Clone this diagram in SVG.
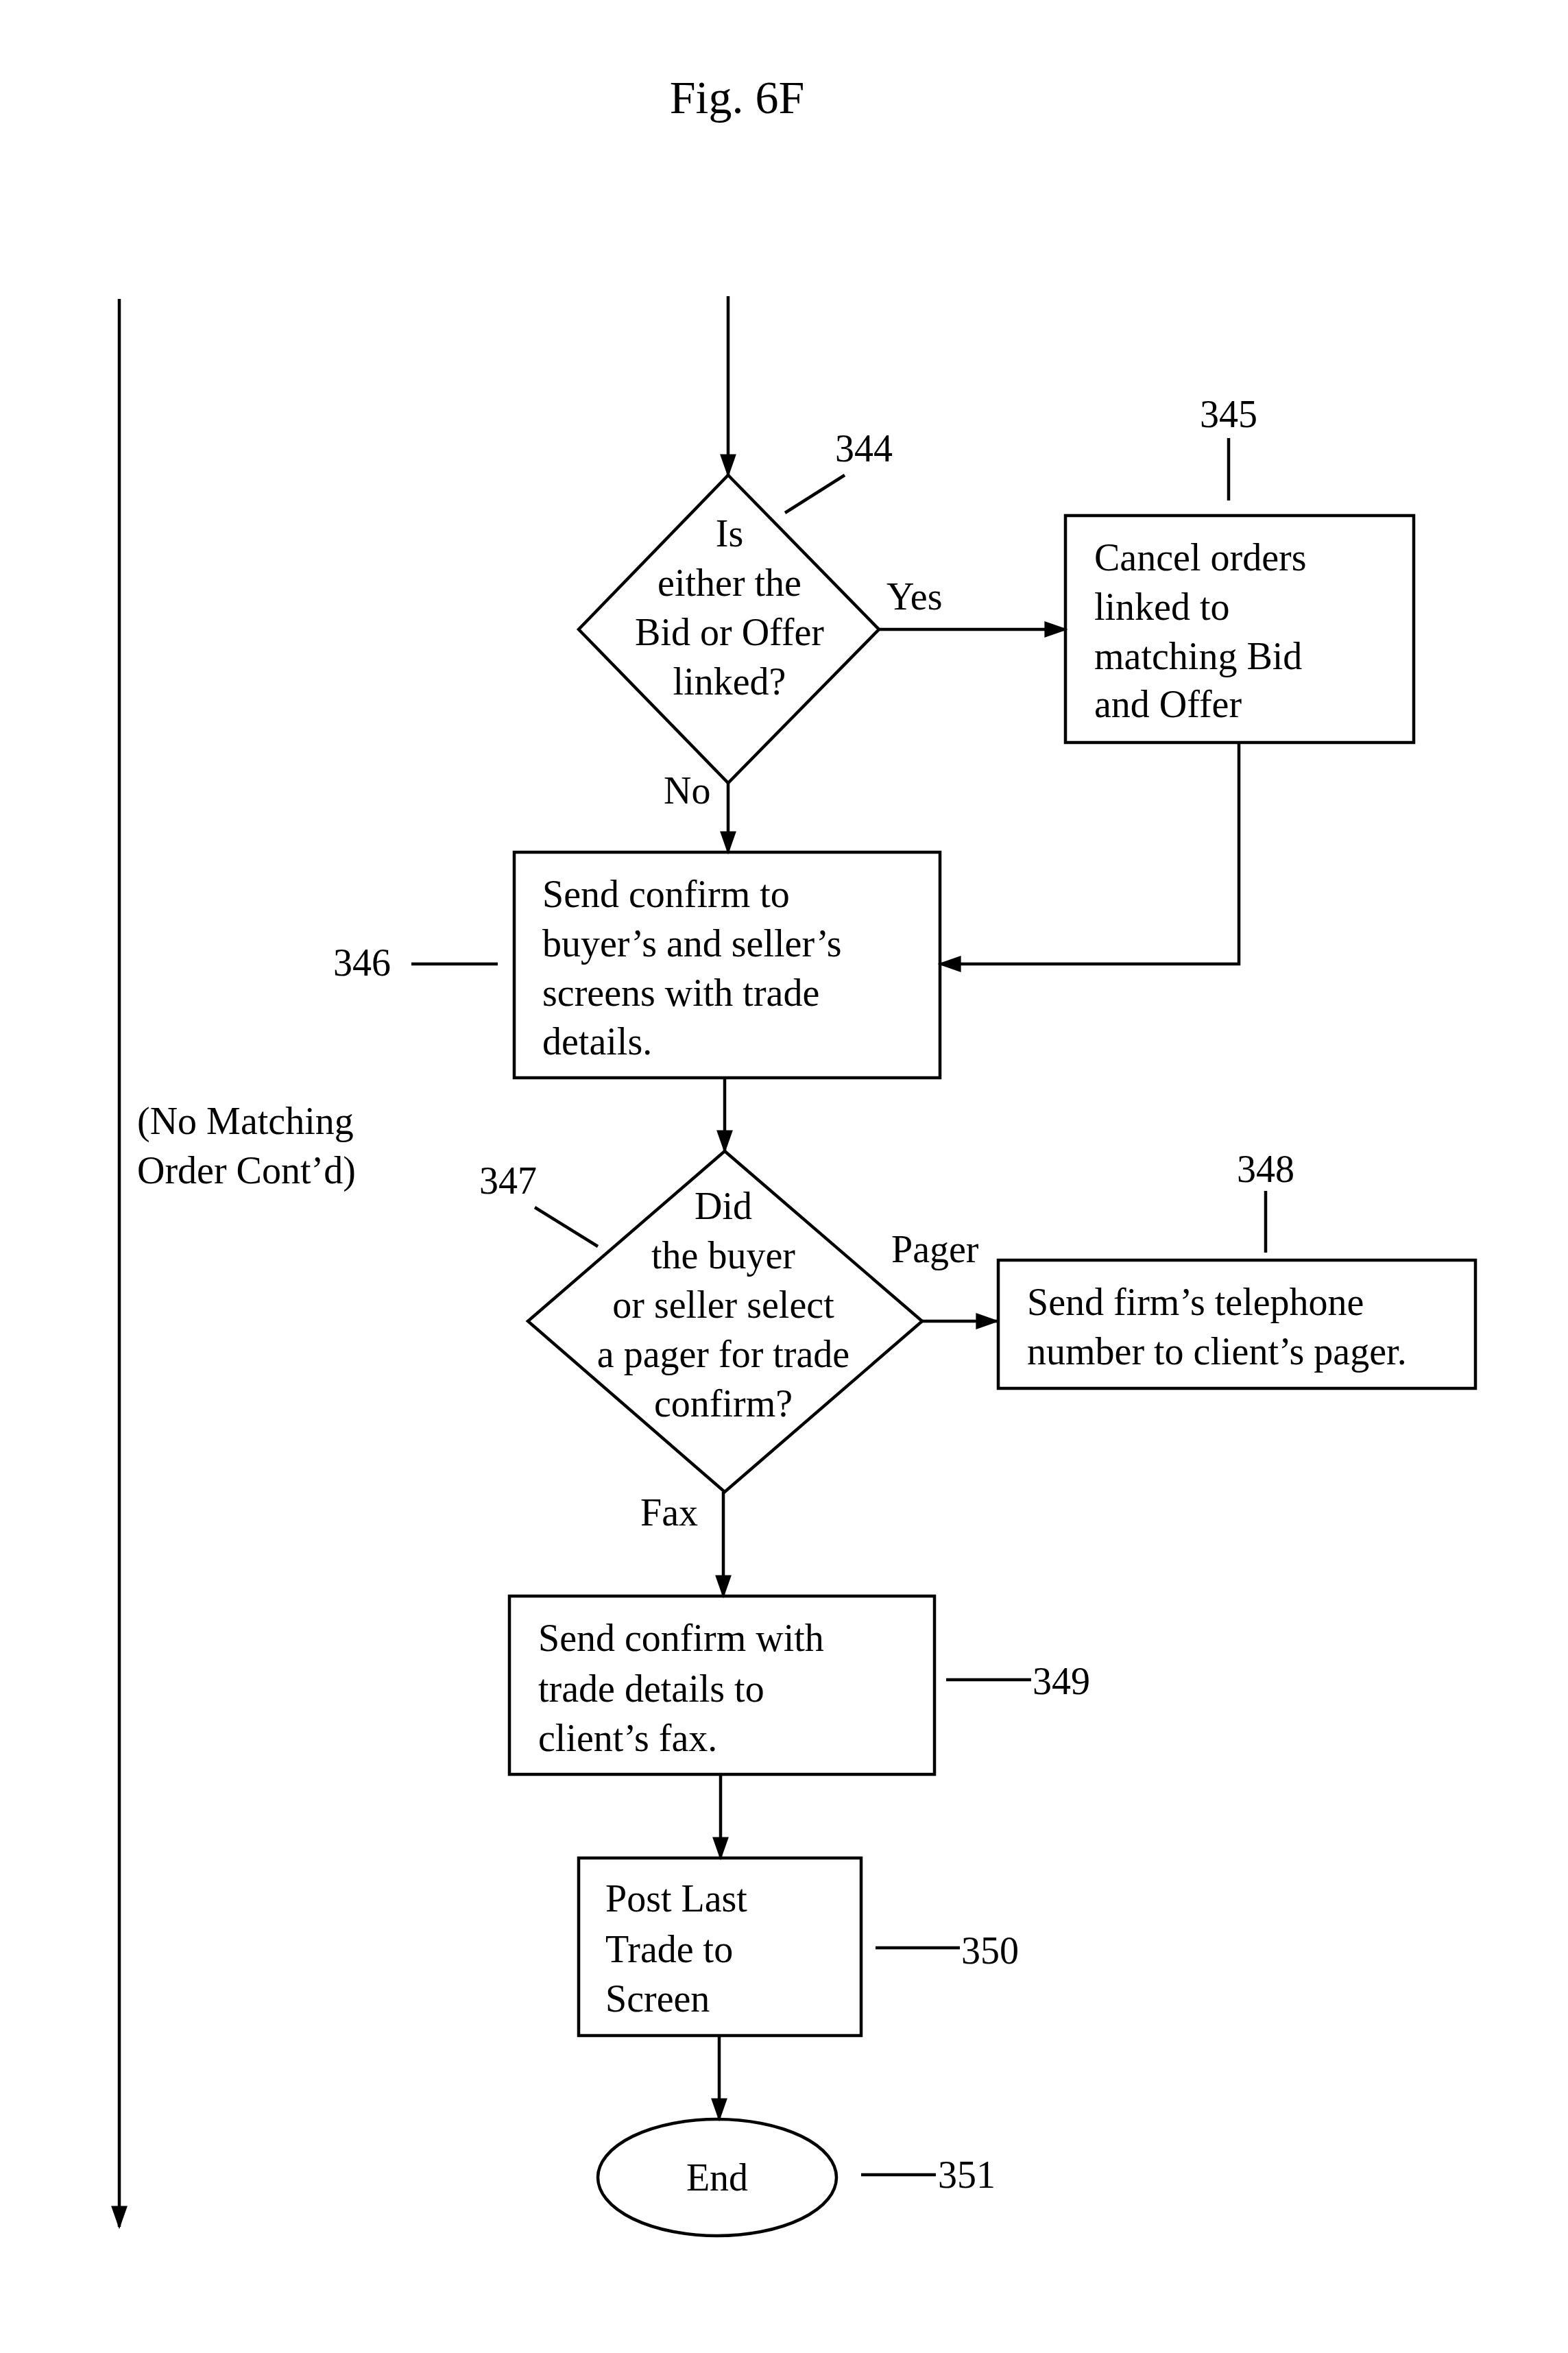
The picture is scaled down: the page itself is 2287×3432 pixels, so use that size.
<svg xmlns="http://www.w3.org/2000/svg" width="2287" height="3432" viewBox="0 0 2287 3432">
<style>
text{font-family:"Liberation Serif","Times New Roman",serif;font-size:56px;fill:#000;dominant-baseline:central}
.c{text-anchor:middle}
.s{fill:none;stroke:#000;stroke-width:4.5}
</style>
<defs><marker id="a" markerWidth="10" markerHeight="10" refX="9" refY="5" orient="auto" markerUnits="userSpaceOnUse" viewBox="0 0 10 10"><path d="M0,0L10,5L0,10z" fill="#000"/></marker>
<marker id="A" viewBox="0 0 10 10" refX="9" refY="5" markerWidth="34" markerHeight="34" markerUnits="userSpaceOnUse" orient="auto"><path d="M0,1.5L10,5L0,8.5z" fill="#000"/></marker></defs>
<rect width="2287" height="3432" fill="#fff"/>
<text class="c" x="1075" y="142" style="font-size:68px">Fig. 6F</text>
<g id="connectors" class="s">
<path d="M174,436V3248" marker-end="url(#A)"/>
<path d="M1062,432V693" marker-end="url(#A)"/>
<path d="M1282,918H1554" marker-end="url(#A)"/>
<path d="M1807,1083V1406H1371" marker-end="url(#A)"/>
<path d="M1062,1142V1243" marker-end="url(#A)"/>
<path d="M1057,1572V1679" marker-end="url(#A)"/>
<path d="M1345,1927H1454" marker-end="url(#A)"/>
<path d="M1055,2176V2328" marker-end="url(#A)"/>
<path d="M1051,2588V2710" marker-end="url(#A)"/>
<path d="M1049,2969V3091" marker-end="url(#A)"/>
<path d="M1145,748L1232,693M1792,639V730M600,1406H726M780,1761L872,1818M1846,1737V1827M1380,2450H1504M1277,2841H1400M1256,3172H1365"/>
</g>
<text class="c" x="1260" y="654">344</text>
<text class="c" x="1792" y="604">345</text>
<text class="c" x="528" y="1404">346</text>
<text class="c" x="741" y="1722">347</text>
<text class="c" x="1846" y="1705">348</text>
<text x="1506" y="2452">349</text>
<text x="1402" y="2845">350</text>
<text x="1368" y="3172">351</text>
<text x="1293" y="870">Yes</text>
<text x="968" y="1153">No</text>
<text x="1300" y="1822">Pager</text>
<text x="934" y="2206">Fax</text>
<text x="200" y="1635">(No Matching</text>
<text x="200" y="1707">Order Cont’d)</text>
<g id="n344"><path class="s" d="M1062,693L1282,918L1062,1142L844,918z"/>
<text class="c" x="1064" y="778">Is</text><text class="c" x="1064" y="850">either the</text><text class="c" x="1064" y="922">Bid or Offer</text><text class="c" x="1064" y="994">linked?</text></g>
<g id="n345"><rect class="s" x="1554" y="752" width="508" height="331"/>
<text x="1596" y="813">Cancel orders</text><text x="1596" y="885">linked to</text><text x="1596" y="957">matching Bid</text><text x="1596" y="1027">and Offer</text></g>
<g id="n346"><rect class="s" x="750" y="1243" width="621" height="329"/>
<text x="791" y="1304">Send confirm to</text><text x="791" y="1376">buyer’s and seller’s</text><text x="791" y="1448">screens with trade</text><text x="791" y="1519">details.</text></g>
<g id="n347"><path class="s" d="M1057,1679L1345,1927L1057,2176L770,1927z"/>
<text class="c" x="1055" y="1759">Did</text><text class="c" x="1055" y="1831">the buyer</text><text class="c" x="1055" y="1903">or seller select</text><text class="c" x="1055" y="1975">a pager for trade</text><text class="c" x="1055" y="2047">confirm?</text></g>
<g id="n348"><rect class="s" x="1456" y="1838" width="696" height="187"/>
<text x="1498" y="1899">Send firm’s telephone</text><text x="1498" y="1971">number to client’s pager.</text></g>
<g id="n349"><rect class="s" x="743" y="2328" width="620" height="260"/>
<text x="785" y="2389">Send confirm with</text><text x="785" y="2463">trade details to</text><text x="785" y="2535">client’s fax.</text></g>
<g id="n350"><rect class="s" x="844" y="2710" width="412" height="259"/>
<text x="883" y="2769">Post Last</text><text x="883" y="2843">Trade to</text><text x="883" y="2915">Screen</text></g>
<g id="n351"><ellipse class="s" cx="1046" cy="3176" rx="174" ry="85"/><text class="c" x="1046" y="3176">End</text></g>
</svg>
